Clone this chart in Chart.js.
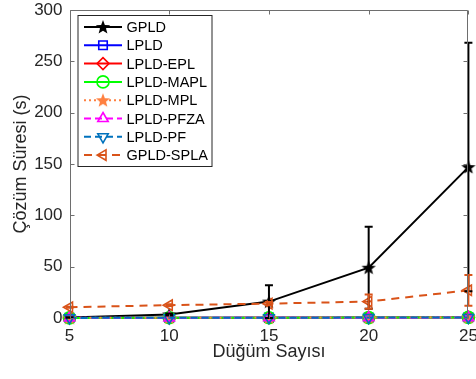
<!DOCTYPE html>
<html><head><meta charset="utf-8">
<script src="https://cdn.jsdelivr.net/npm/chart.js@4.4.1/dist/chart.umd.min.js"></script>
<style>html,body{margin:0;padding:0;overflow:hidden;background:#fff}#wrap{width:476px;height:379px}</style>
</head><body><div id="wrap"><canvas id="c"></canvas></div>
<script>
// ---- data ----
const nodes = [5, 10, 15, 20, 25];
const seriesNames = ['GPLD','LPLD','LPLD-EPL','LPLD-MAPL','LPLD-MPL','LPLD-PFZA','LPLD-PF','GPLD-SPLA'];
const gpld      = [0.5, 3.5, 16, 49, 147];
const gpldErr   = [0.3, 1.0, 16, 40, 121];
const lpld      = [0.2, 0.3, 0.4, 0.5, 0.7];
const lpldEpl   = [0.1, 0.2, 0.3, 0.4, 0.5];
const lpldMapl  = [0.1, 0.2, 0.3, 0.4, 0.6];
const lpldMpl   = [0.2, 0.3, 0.4, 0.5, 0.7];
const lpldPfza  = [0.1, 0.1, 0.2, 0.3, 0.4];
const lpldPf    = [0.1, 0.2, 0.3, 0.4, 0.5];
const gpldSpla  = [10.5, 12.5, 14, 16, 27];
const gpldSplaErr = [0.5, 0.8, 1.5, 7, 15];
const yTicks = [0, 50, 100, 150, 200, 250, 300];
const xTitle = 'Düğüm Sayısı';
const yTitle = 'Çözüm Süresi (s)';

function starImg(color, size) {
  const c = document.createElement('canvas');
  c.width = c.height = size;
  const g = c.getContext('2d');
  const cx = size / 2, cy = size / 2 + 0.5, R = size / 2 - 0.5, r = R * 0.42;
  g.beginPath();
  for (let i = 0; i < 10; i++) {
    const a = -Math.PI / 2 + i * Math.PI / 5;
    const rr = i % 2 ? r : R;
    g.lineTo(cx + rr * Math.cos(a), cy + rr * Math.sin(a));
  }
  g.closePath();
  g.fillStyle = color; g.fill();
  return c;
}

const styles = [
  {color:'#000000', dash:[], point:starImg('#000000',16), rot:0, err:gpldErr},
  {color:'#0000FF', dash:[], point:'rect', rot:0},
  {color:'#FF0000', dash:[], point:'rectRot', rot:0},
  {color:'#00FF00', dash:[], point:'circle', rot:0},
  {color:'#FF8040', dash:[2,3], point:starImg('#FF8040',16), rot:0},
  {color:'#FF00FF', dash:[7,4], point:'triangle', rot:0},
  {color:'#0072BD', dash:[7,4], point:'triangle', rot:180},
  {color:'#D95319', dash:[8,6], point:'triangle', rot:-90, err:gpldSplaErr}
];
const values = [gpld, lpld, lpldEpl, lpldMapl, lpldMpl, lpldPfza, lpldPf, gpldSpla];

const datasets = values.map((v, i) => ({
  label: seriesNames[i],
  data: nodes.map((x, j) => ({x: x, y: v[j]})),
  borderColor: styles[i].color,
  backgroundColor: 'rgba(0,0,0,0)',
  borderWidth: 2,
  borderDash: styles[i].dash,
  pointStyle: styles[i].point,
  pointRotation: styles[i].rot,
  pointRadius: 6,
  pointBorderWidth: 1.6,
  pointBackgroundColor: 'rgba(0,0,0,0)',
  pointBorderColor: styles[i].color,
  errors: styles[i].err,
  tension: 0,
  clip: false,
  order: values.length - i
}));

const errorBarPlugin = {
  id: 'errorBars',
  afterDatasetsDraw(chart) {
    const ctx = chart.ctx, xs = chart.scales.x, ys = chart.scales.y;
    chart.data.datasets.forEach(ds => {
      if (!ds.errors) return;
      ctx.save();
      ctx.strokeStyle = ds.borderColor; ctx.lineWidth = 2; ctx.setLineDash([]);
      ds.data.forEach((p, j) => {
        const e = ds.errors[j];
        const px = xs.getPixelForValue(p.x);
        const top = ys.getPixelForValue(p.y + e), bot = ys.getPixelForValue(p.y - e);
        ctx.beginPath();
        ctx.moveTo(px, top); ctx.lineTo(px, bot);
        ctx.moveTo(px - 4, top); ctx.lineTo(px + 4, top);
        ctx.moveTo(px - 4, bot); ctx.lineTo(px + 4, bot);
        ctx.stroke();
      });
      ctx.restore();
    });
  }
};

const boxPlugin = {
  id: 'box',
  afterDatasetsDraw(chart) {
    const ctx = chart.ctx, a = chart.chartArea, xs = chart.scales.x, ys = chart.scales.y;
    ctx.save();
    ctx.strokeStyle = '#6e6e6e'; ctx.lineWidth = 1; ctx.setLineDash([]);
    const L = Math.round(a.left) + 0.5, R = Math.round(a.right) - 0.5, T = Math.round(a.top) + 0.5, B = Math.round(a.bottom) + 0.5;
    ctx.beginPath();
    ctx.moveTo(L, B); ctx.lineTo(L, T); ctx.lineTo(R, T); ctx.lineTo(R, B);
    ctx.stroke();
    ctx.beginPath();
    xs.ticks.forEach(t => {
      const x = Math.round(xs.getPixelForValue(t.value)) + 0.5;
      ctx.moveTo(x, T); ctx.lineTo(x, T + 4);
      ctx.moveTo(x, B); ctx.lineTo(x, B - 4);
    });
    ys.ticks.forEach(t => {
      const y = Math.round(ys.getPixelForValue(t.value)) + 0.5;
      ctx.moveTo(L, y); ctx.lineTo(L + 4, y);
      ctx.moveTo(R, y); ctx.lineTo(R - 4, y);
    });
    ctx.stroke();
    ctx.restore();
  }
};

const legendPlugin = {
  id: 'customLegend',
  afterDraw(chart) {
    const ctx = chart.ctx, a = chart.chartArea;
    const bx = a.left + 8.5, by = a.top + 5.5, bw = 134, bh = 151;
    ctx.save();
    ctx.fillStyle = '#fff'; ctx.fillRect(bx, by, bw, bh);
    ctx.strokeStyle = '#262626'; ctx.lineWidth = 1; ctx.strokeRect(bx, by, bw, bh);
    ctx.font = '14.5px "Liberation Sans", Arial, sans-serif';
    ctx.textBaseline = 'middle';
    chart.data.datasets.forEach((ds, i) => {
      const y = by + 11.5 + i * 18.3;
      ctx.strokeStyle = ds.borderColor; ctx.lineWidth = 2; ctx.setLineDash(ds.borderDash);
      ctx.beginPath(); ctx.moveTo(bx + 6, y); ctx.lineTo(bx + 44, y); ctx.stroke();
      ctx.setLineDash([]);
      ctx.lineWidth = 1.6;
      ctx.strokeStyle = ds.borderColor; ctx.fillStyle = 'rgba(0,0,0,0)';
      if (typeof ds.pointStyle === 'object') {
        ctx.drawImage(ds.pointStyle, bx + 25 - ds.pointStyle.width / 2, y - ds.pointStyle.height / 2);
      } else {
        Chart.helpers.drawPoint(ctx, {pointStyle: ds.pointStyle, radius: 6, rotation: ds.pointRotation, borderWidth: 1.6}, bx + 25, y);
      }
      ctx.fillStyle = '#000';
      ctx.fillText(ds.label, bx + 48.5, y + 1);
    });
    ctx.restore();
  }
};

const tickFont = {family: '"Liberation Sans", Arial, sans-serif', size: 17};
const titleFont = {family: '"Liberation Sans", Arial, sans-serif', size: 18};

new Chart(document.getElementById('c'), {
  type: 'line',
  data: {datasets: datasets},
  options: {
    responsive: true, maintainAspectRatio: false, animation: false,
    layout: {padding: {top: 10, right: 5.5, bottom: 16, left: 0}},
    plugins: {legend: {display: false}, tooltip: {enabled: false}},
    scales: {
      x: {
        type: 'linear', min: 5, max: 25,
        grid: {display: false, drawTicks: false}, border: {display: false},
        afterBuildTicks: s => { s.ticks = nodes.map(v => ({value: v})); },
        afterFit: s => { s.height = 45; s.paddingLeft = 0; s.paddingRight = 0; },
        ticks: {font: tickFont, color: '#262626', padding: 8, maxRotation: 0},
        title: {display: true, text: xTitle, font: titleFont, color: '#262626', padding: {top: 0, bottom: 0}}
      },
      y: {
        min: 0, max: 300,
        grid: {display: false, drawTicks: false}, border: {display: false},
        afterBuildTicks: s => { s.ticks = yTicks.map(v => ({value: v})); },
        afterFit: s => { s.width = 69.5; s.paddingTop = 0; s.paddingBottom = 0; },
        ticks: {font: tickFont, color: '#262626', padding: 7},
        title: {display: true, text: yTitle, font: titleFont, color: '#262626', padding: {top: 10, bottom: 0}}
      }
    }
  },
  plugins: [errorBarPlugin, boxPlugin, legendPlugin]
});
</script>
</body></html>
